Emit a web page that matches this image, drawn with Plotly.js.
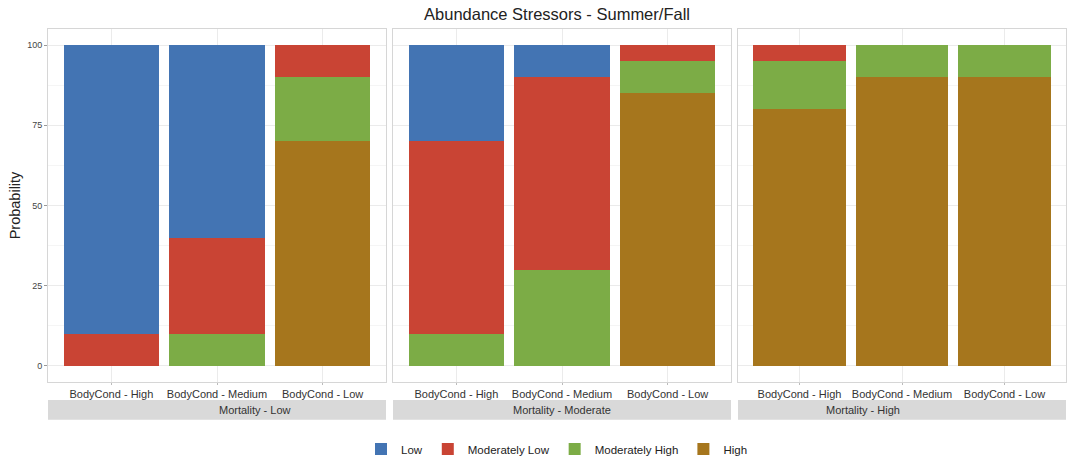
<!DOCTYPE html>
<html>
<head>
<meta charset="utf-8">
<script src="https://cdn.plot.ly/plotly-3.0.1.min.js"></script>
<style>html,body{margin:0;padding:0;background:#fff;}#chart{width:1068px;height:465px;}</style>
</head>
<body>
<div id="chart"></div>
<script>
const bodyCond = ["BodyCond - High", "BodyCond - Medium", "BodyCond - Low"];
const mortality = ["Mortality - Low", "Mortality - Moderate", "Mortality - High"];
const levels = ["Low", "Moderately Low", "Moderately High", "High"];
const colors = ["#4374B3", "#C94434", "#7CAC46", "#A6761D"];

// values per mortality panel, each array over bodyCond
const lowValues = [[90, 60, 0], [30, 10, 0], [0, 0, 0]];
const modLowValues = [[10, 30, 10], [60, 60, 5], [5, 0, 0]];
const modHighValues = [[0, 10, 20], [10, 30, 10], [15, 10, 10]];
const highValues = [[0, 0, 70], [0, 0, 85], [80, 90, 90]];

const seriesValues = [lowValues, modLowValues, modHighValues, highValues];
const yTicks = [0, 25, 50, 75, 100];

const traces = [];
// stack bottom-up: High, Moderately High, Moderately Low, Low
for (let li = levels.length - 1; li >= 0; li--) {
  for (let p = 0; p < mortality.length; p++) {
    traces.push({
      type: "bar",
      x: bodyCond,
      y: seriesValues[li][p],
      name: levels[li],
      legendgroup: levels[li],
      showlegend: p === 0,
      legendrank: li + 1,
      marker: {color: colors[li], line: {width: 0}},
      xaxis: p === 0 ? "x" : "x" + (p + 1),
      yaxis: p === 0 ? "y" : "y" + (p + 1),
      hoverinfo: "x+y+name"
    });
  }
}

const W = 1018;
const domains = [[0, 338 / W], [345 / W, 683 / W], [690 / W, 1]];
const gridC = "#ebebeb";
const borderC = "#d6d6d6";

const layout = {
  width: 1068, height: 465,
  margin: {l: 48, r: 2, t: 29, b: 81},
  paper_bgcolor: "#fff", plot_bgcolor: "#fff",
  barmode: "stack", bargap: 0.1,
  font: {family: "Liberation Sans, Arial, sans-serif", color: "#4d4d4d"},
  title: {text: "Abundance Stressors - Summer/Fall", x: 0.5, xref: "paper", y: 0.97, yanchor: "middle",
          font: {size: 16.5, color: "#222"}},
  showlegend: true,
  legend: {orientation: "h", x: 0.5, xanchor: "center", y: -0.19, yanchor: "middle",
           font: {size: 11.5, color: "#222"}, itemwidth: 30, tracegroupgap: 0},
  shapes: [], annotations: []
};

for (let p = 0; p < 3; p++) {
  const xs = p === 0 ? "xaxis" : "xaxis" + (p + 1);
  const ys = p === 0 ? "yaxis" : "yaxis" + (p + 1);
  layout[xs] = {
    domain: domains[p], anchor: p === 0 ? "y" : "y" + (p + 1),
    type: "category", range: [-0.6, 2.6], fixedrange: true,
    showgrid: true, gridcolor: gridC, gridwidth: 1,
    showline: true, mirror: true, linecolor: borderC, linewidth: 1,
    ticks: "outside", ticklen: 2, tickcolor: "#bbb",
    tickfont: {size: 11, color: "#333"}, zeroline: false
  };
  layout[ys] = {
    domain: [0, 1], anchor: p === 0 ? "x" : "x" + (p + 1),
    range: [-5, 105], fixedrange: true,
    tickvals: yTicks, showticklabels: p === 0,
    showgrid: true, gridcolor: gridC, gridwidth: 1,
    minor: {dtick: 12.5, tick0: 0, showgrid: true, gridcolor: "#f5f5f5", ticks: ""},
    showline: true, mirror: true, linecolor: borderC, linewidth: 1,
    ticks: p === 0 ? "outside" : "", ticklen: 3, tickcolor: "#999",
    tickfont: {size: 9, color: "#444"}, zeroline: false
  };
  layout.shapes.push({type: "rect", xref: "paper", yref: "paper", layer: "below",
    x0: domains[p][0], x1: domains[p][1], y0: -0.107, y1: -0.051,
    fillcolor: "#d9d9d9", line: {width: 0}});
  layout.annotations.push({xref: "paper", yref: "paper", x: (domains[p][0] + domains[p][1]) / 2,
    y: -0.079, yanchor: "middle", text: mortality[p], showarrow: false,
    font: {size: 11, color: "#333"}});
}
layout.yaxis.title = {text: "Probability", font: {size: 14.5, color: "#222"}, standoff: 3};

Plotly.newPlot("chart", traces, layout, {displayModeBar: false, staticPlot: true});
</script>
</body>
</html>
